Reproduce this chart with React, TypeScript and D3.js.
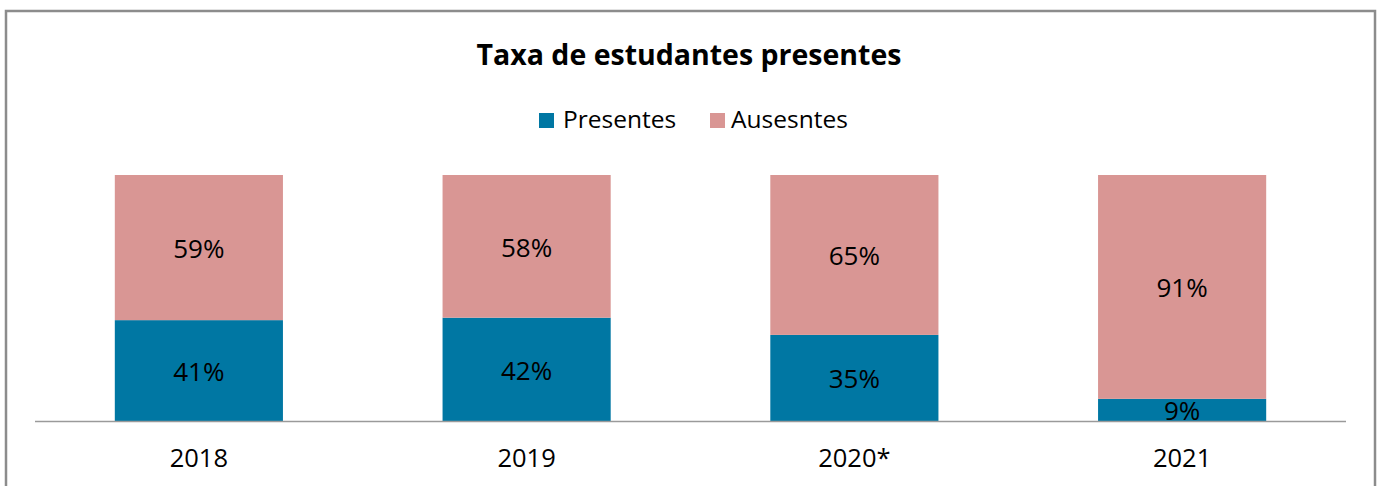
import React from "react";
import * as d3 from "d3";

const categories = ["2018", "2019", "2020*", "2021"];
const presentes = [41, 42, 35, 9];
const ausentes = [59, 58, 65, 91];
const seriesNames = ["Presentes", "Ausesntes"];
const colors = ["#0077A3", "#D99694"];
const title = "Taxa de estudantes presentes";

const W = 1378;
const H = 486;
const FONT = "'Open Sans', 'Noto Sans', sans-serif";

export default function App() {
  const plotLeft = 35;
  const plotRight = 1346;
  const baseY = 421;
  const topY = 175;

  const x = d3.scaleBand<string>().domain(categories).range([plotLeft, plotRight]).paddingInner(0.487).paddingOuter(0.2435);
  const y = d3.scaleLinear().domain([0, 100]).range([baseY, topY]);

  const rows = categories.map((c, i) => ({ cat: c, Presentes: presentes[i], Ausesntes: ausentes[i] }));
  const stacked = d3.stack<any>().keys(seriesNames)(rows);

  return (
    <svg width={W} height={H} style={{ position: "absolute", left: 0, top: 0, display: "block" }}>
      <rect x={0} y={0} width={W} height={H} fill="#fff" />
      <rect x={6} y={11} width={1369} height={H} fill="#fff" stroke="#8c8c8c" strokeWidth={2.5} />
      <text x={689} y={65} textAnchor="middle" fontFamily={FONT} fontWeight="bold" fontSize={28.5} fill="#000">
        {title}
      </text>
      {/* legend */}
      <g fontFamily={FONT} fontSize={24.5} fill="#000">
        <rect x={539} y={113} width={15} height={15} fill={colors[0]} />
        <text x={563} y={128}>{seriesNames[0]}</text>
        <rect x={710} y={113} width={15} height={15} fill={colors[1]} />
        <text x={731} y={128}>{seriesNames[1]}</text>
      </g>
      {stacked.map((s, si) => (
        <g key={s.key} fill={colors[si]}>
          {s.map((d, i) => (
            <rect key={i} x={x(categories[i])} y={y(d[1])} width={x.bandwidth()} height={y(d[0]) - y(d[1])} />
          ))}
        </g>
      ))}
      {stacked.map((s, si) => (
        <g key={"l" + s.key} fontFamily={FONT} fontSize={26} fill="#000" textAnchor="middle">
          {s.map((d, i) => (
            <text key={i} x={(x(categories[i]) as number) + x.bandwidth() / 2} y={(y(d[0]) + y(d[1])) / 2 + 10.5}>
              {d[1] - d[0] + "%"}
            </text>
          ))}
        </g>
      ))}
      <line x1={plotLeft} x2={plotRight} y1={baseY + 0.5} y2={baseY + 0.5} stroke="#9a9a9a" strokeWidth={1.5} />
      <g fontFamily={FONT} fontSize={25.5} fill="#000" textAnchor="middle">
        {categories.map((c) => (
          <text key={c} x={(x(c) as number) + x.bandwidth() / 2} y={467}>{c}</text>
        ))}
      </g>
    </svg>
  );
}
